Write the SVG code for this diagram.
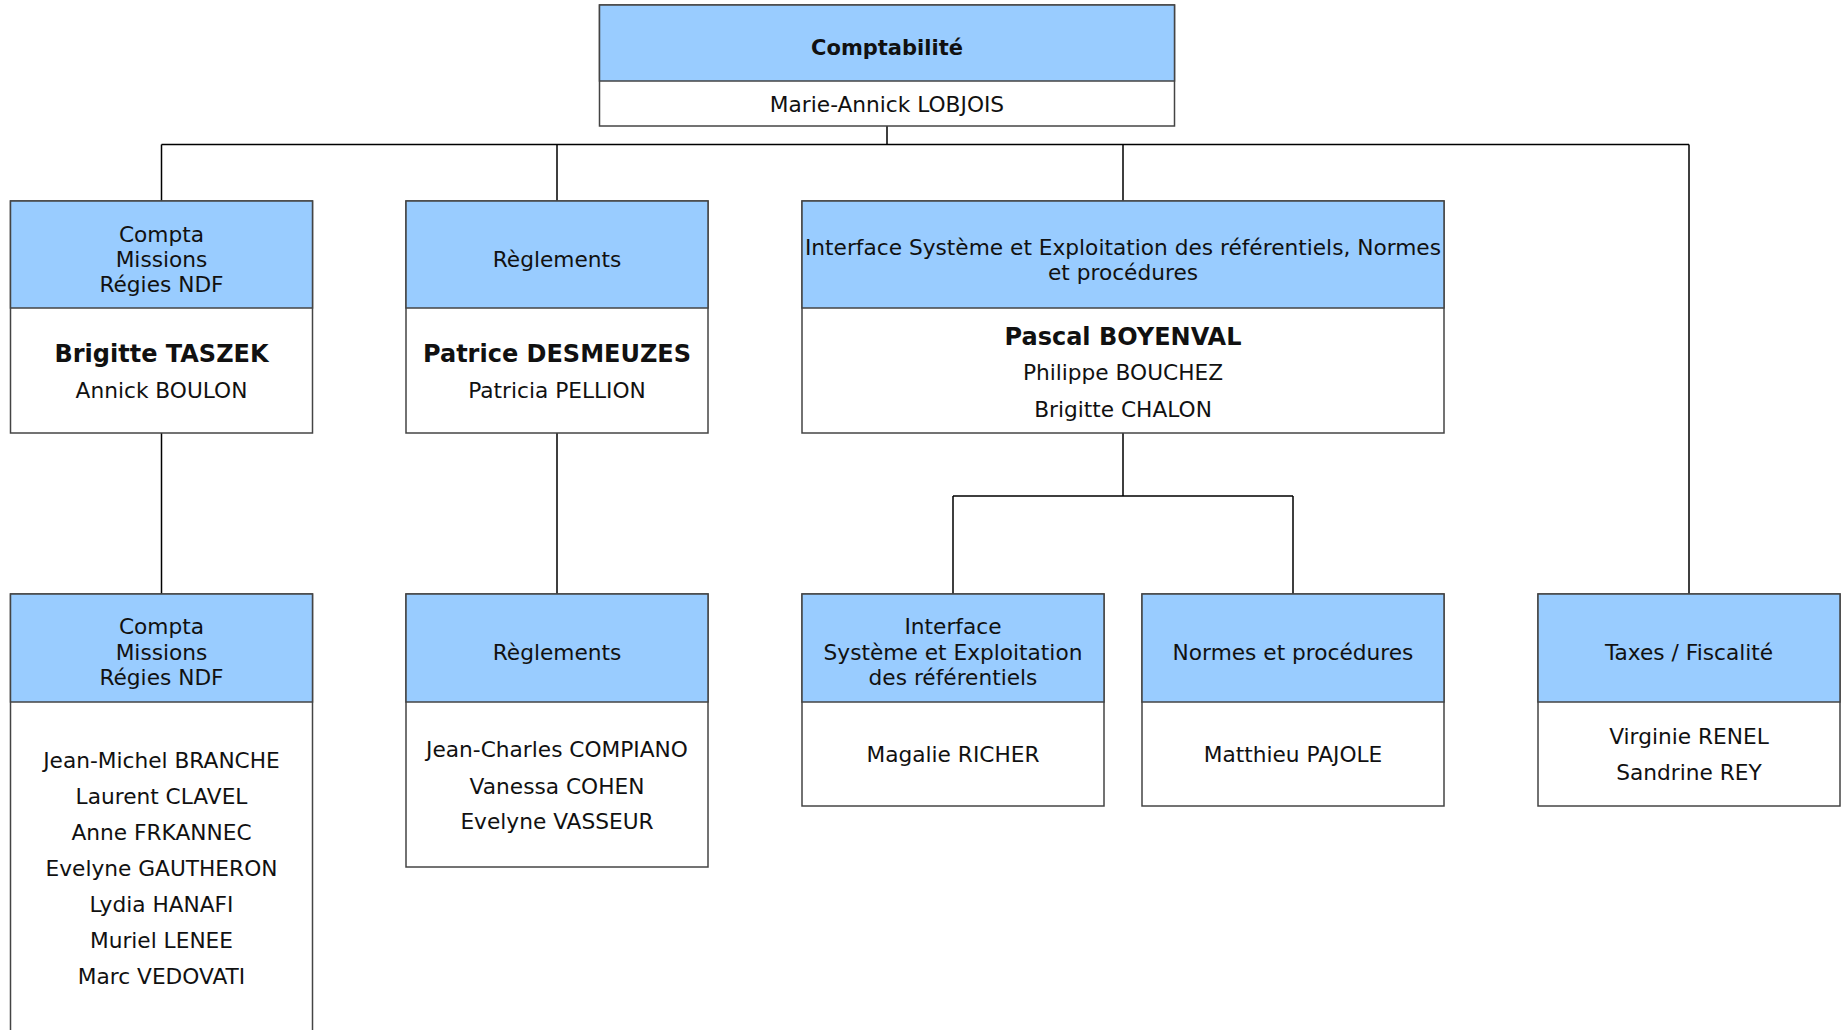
<svg xmlns="http://www.w3.org/2000/svg" width="1842" height="1030" viewBox="0 0 1842 1030">
<style>
.hd{fill:#99CCFF;stroke:#444;stroke-width:1.5}
.bd{fill:#fff;stroke:#444;stroke-width:1.5}
text{font-family:"DejaVu Sans",Verdana,sans-serif;font-size:21.7px;fill:#111;text-anchor:middle}
.b{font-weight:bold;font-size:24px}
.t{font-weight:bold;font-size:21px}
#connectors path{fill:none;stroke:#000;stroke-width:1.5}
</style>
<rect width="1842" height="1030" fill="#fff"/>
<g id="connectors">
<path d="M887 126V144.5M161.5 144.5H1689M161.5 144.5V201M557 144.5V201M1123 144.5V201M1689 144.5V594"/>
<path d="M161.5 433V594M557 433V594"/>
<path d="M1123 433V496M953 496H1293M953 496V594M1293 496V594"/>
</g>
<g id="root">
<rect class="bd" x="599.5" y="5" width="575" height="121"/>
<rect class="hd" x="599.5" y="5" width="575" height="76"/>
<text class="t" x="887" y="55">Comptabilité</text>
<text x="887" y="112">Marie-Annick LOBJOIS</text>
</g>
<g id="compta1">
<rect class="bd" x="10.5" y="201" width="302" height="232"/>
<rect class="hd" x="10.5" y="201" width="302" height="107"/>
<text x="161.5" y="241.5">Compta</text>
<text x="161.5" y="267">Missions</text>
<text x="161.5" y="292">Régies NDF</text>
<text class="b" x="161.5" y="362">Brigitte TASZEK</text>
<text x="161.5" y="398">Annick BOULON</text>
</g>
<g id="reglements1">
<rect class="bd" x="406" y="201" width="302" height="232"/>
<rect class="hd" x="406" y="201" width="302" height="107"/>
<text x="557" y="267">Règlements</text>
<text class="b" x="557" y="362">Patrice DESMEUZES</text>
<text x="557" y="398">Patricia PELLION</text>
</g>
<g id="interface1">
<rect class="bd" x="802" y="201" width="642" height="232"/>
<rect class="hd" x="802" y="201" width="642" height="107"/>
<text x="1123" y="254.5">Interface Système et Exploitation des référentiels, Normes</text>
<text x="1123" y="280">et procédures</text>
<text class="b" x="1123" y="344.5">Pascal BOYENVAL</text>
<text x="1123" y="380">Philippe BOUCHEZ</text>
<text x="1123" y="416.5">Brigitte CHALON</text>
</g>
<g id="compta2">
<rect class="bd" x="10.5" y="594" width="302" height="450"/>
<rect class="hd" x="10.5" y="594" width="302" height="108"/>
<text x="161.5" y="634">Compta</text>
<text x="161.5" y="659.5">Missions</text>
<text x="161.5" y="685">Régies NDF</text>
<text x="161.5" y="768">Jean-Michel BRANCHE</text>
<text x="161.5" y="804">Laurent CLAVEL</text>
<text x="161.5" y="840">Anne FRKANNEC</text>
<text x="161.5" y="876">Evelyne GAUTHERON</text>
<text x="161.5" y="912">Lydia HANAFI</text>
<text x="161.5" y="948">Muriel LENEE</text>
<text x="161.5" y="984">Marc VEDOVATI</text>
</g>
<g id="reglements2">
<rect class="bd" x="406" y="594" width="302" height="273"/>
<rect class="hd" x="406" y="594" width="302" height="108"/>
<text x="557" y="659.5">Règlements</text>
<text x="557" y="757">Jean-Charles COMPIANO</text>
<text x="557" y="793.5">Vanessa COHEN</text>
<text x="557" y="829">Evelyne VASSEUR</text>
</g>
<g id="interface2">
<rect class="bd" x="802" y="594" width="302" height="212"/>
<rect class="hd" x="802" y="594" width="302" height="108"/>
<text x="953" y="634">Interface</text>
<text x="953" y="659.5">Système et Exploitation</text>
<text x="953" y="685">des référentiels</text>
<text x="953" y="761.5">Magalie RICHER</text>
</g>
<g id="normes">
<rect class="bd" x="1142" y="594" width="302" height="212"/>
<rect class="hd" x="1142" y="594" width="302" height="108"/>
<text x="1293" y="659.5">Normes et procédures</text>
<text x="1293" y="761.5">Matthieu PAJOLE</text>
</g>
<g id="taxes">
<rect class="bd" x="1538" y="594" width="302" height="212"/>
<rect class="hd" x="1538" y="594" width="302" height="108"/>
<text x="1689" y="659.5">Taxes / Fiscalité</text>
<text x="1689" y="744">Virginie RENEL</text>
<text x="1689" y="780">Sandrine REY</text>
</g>
</svg>
